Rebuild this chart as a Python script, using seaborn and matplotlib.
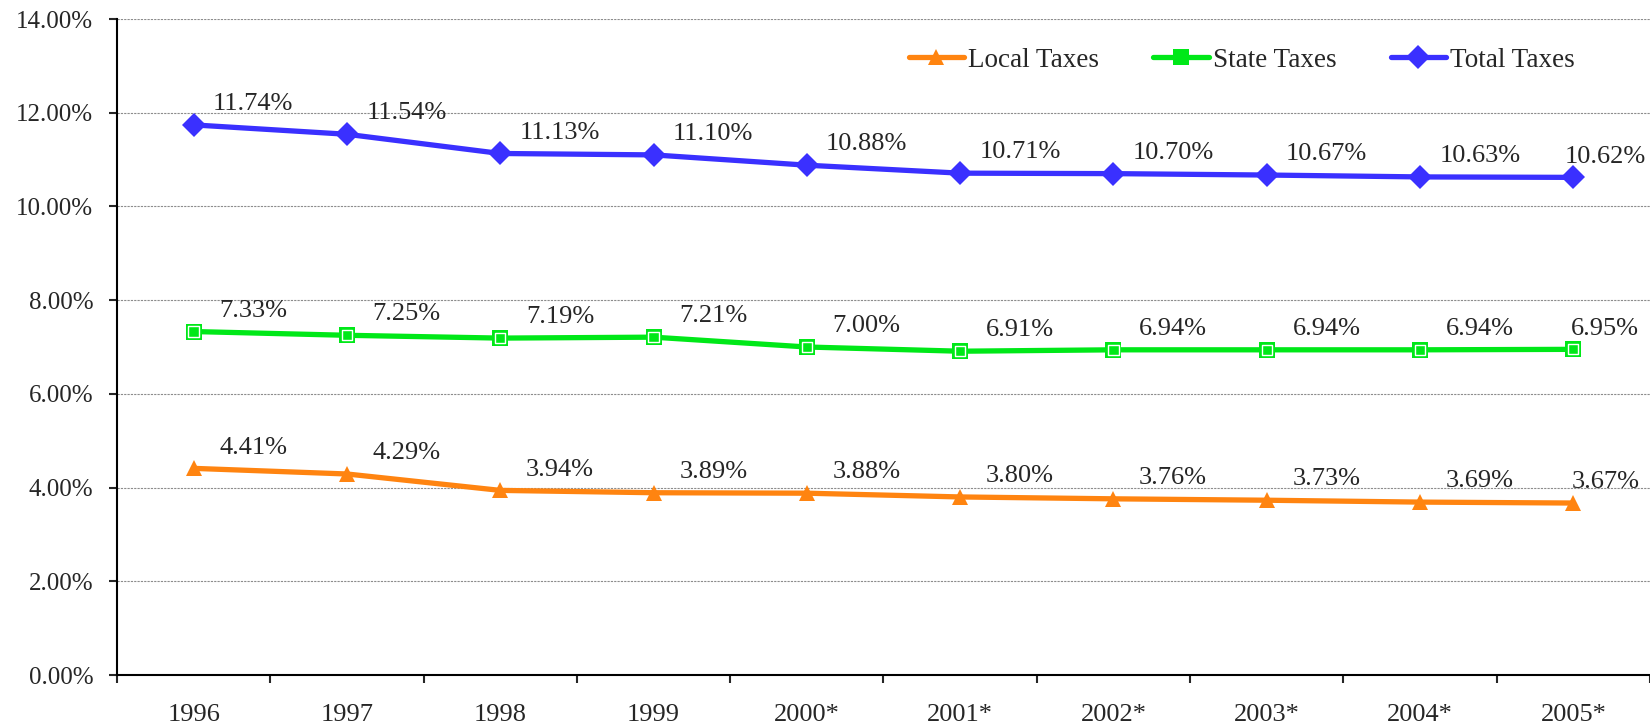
import numpy as np
import pandas as pd
import seaborn as sns
import matplotlib.pyplot as plt
from matplotlib.ticker import FixedLocator, FuncFormatter

years = ["1996", "1997", "1998", "1999", "2000*", "2001*", "2002*", "2003*", "2004*", "2005*"]
local_taxes = [4.41, 4.29, 3.94, 3.89, 3.88, 3.80, 3.76, 3.73, 3.69, 3.67]
state_taxes = [7.33, 7.25, 7.19, 7.21, 7.00, 6.91, 6.94, 6.94, 6.94, 6.95]
total_taxes = [11.74, 11.54, 11.13, 11.10, 10.88, 10.71, 10.70, 10.67, 10.63, 10.62]
series_names = ["Local Taxes", "State Taxes", "Total Taxes"]
colors = {"Local Taxes": "#FF8410", "State Taxes": "#00E818", "Total Taxes": "#3A30FF"}
markers = {"Local Taxes": "^", "State Taxes": "s", "Total Taxes": "D"}

df = pd.DataFrame({
    "pos": list(range(len(years))) * 3,
    "Type": np.repeat(series_names, len(years)),
    "value": local_taxes + state_taxes + total_taxes,
})

sns.set_style("white")
plt.rcParams["font.family"] = ["Liberation Serif", "DejaVu Serif"]

fig = plt.figure(figsize=(16.5, 7.28), dpi=100)
ax = fig.add_axes([0.0709, 0.0728, 0.9291, 0.9011])

sns.lineplot(data=df, x="pos", y="value", hue="Type", style="Type",
             palette=colors, markers=markers, dashes=False, linewidth=3.8,
             markersize=12, markeredgewidth=0, ax=ax, sort=False, zorder=3)

# white inner outline of the square markers
state = df[df["Type"] == "State Taxes"]
ax.scatter(state["pos"], state["value"], marker="s", s=55, facecolor="none",
           edgecolor="white", linewidth=1.0, zorder=4)

# data labels
for name in series_names:
    sub = df[df["Type"] == name]
    for i, (x, v) in enumerate(zip(sub["pos"], sub["value"])):
        dx = 43 if i < len(years) - 1 else 23
        ax.annotate(f"{v:.2f}%", (x, v), xytext=(dx, 15), textcoords="offset points",
                    ha="center", va="center", fontsize=19, zorder=5)

ax.set_xlim(-0.5, len(years) - 0.5)
ax.set_ylim(0, 14)
ax.set_yticks(np.arange(0, 14.1, 2))
ax.yaxis.set_major_formatter(FuncFormatter(lambda v, p: f"{v:.2f}%"))
ax.tick_params(axis="y", direction="out", length=6, width=1.5, pad=11, labelsize=18, left=True)

ax.xaxis.set_major_locator(FixedLocator(np.arange(-0.5, len(years), 1)))
ax.xaxis.set_minor_locator(FixedLocator(np.arange(len(years))))
ax.set_xticklabels([])
ax.set_xticklabels(years, minor=True)
ax.tick_params(axis="x", which="major", direction="out", length=6, width=1.5, bottom=True)
ax.tick_params(axis="x", which="minor", length=0, pad=21, labelsize=19)

ax.grid(axis="y", color="#8C8C8C", linestyle=(0, (2, 1)), linewidth=0.8)
ax.grid(axis="x", visible=False)
ax.set_axisbelow(True)
for s in ["top", "right"]:
    ax.spines[s].set_visible(False)
for s in ["left", "bottom"]:
    ax.spines[s].set_color("black")
    ax.spines[s].set_linewidth(1.5)
ax.set_xlabel("")
ax.set_ylabel("")

handles, labels = ax.get_legend_handles_labels()
ax.legend(handles, labels, loc="upper right", bbox_to_anchor=(0.967, 0.993), ncol=3,
          frameon=False, fontsize=19.5, handlelength=2.05, handletextpad=0.15,
          columnspacing=2.0)

fig.savefig("out.png", dpi=100)
